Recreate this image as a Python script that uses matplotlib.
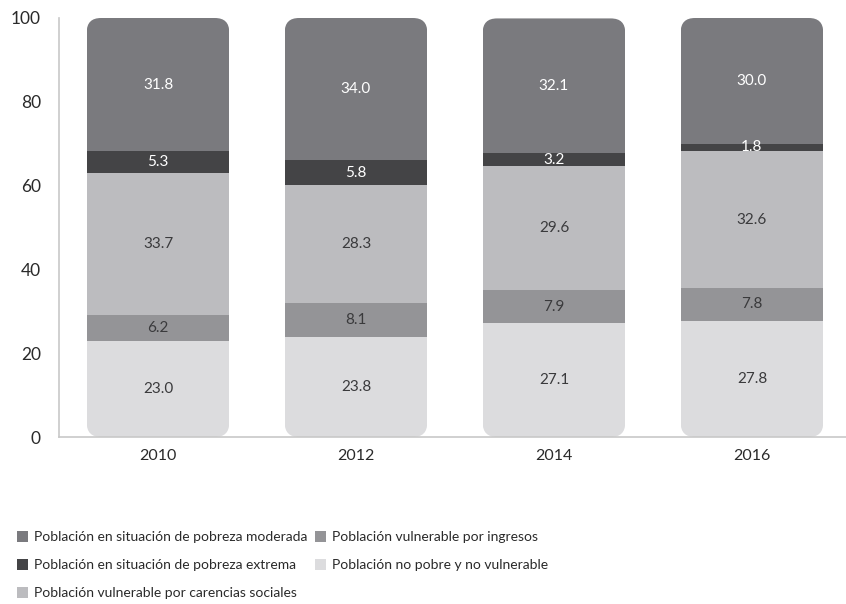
import numpy as np
import matplotlib
matplotlib.use("Agg")
import matplotlib.pyplot as plt
from matplotlib.patches import FancyBboxPatch, Patch

plt.rcParams["font.family"] = ["Lato", "DejaVu Sans"]

years = ["2010", "2012", "2014", "2016"]
no_pobre = [23.0, 23.8, 27.1, 27.8]
vuln_ingresos = [6.2, 8.1, 7.9, 7.8]
vuln_carencias = [33.7, 28.3, 29.6, 32.6]
pobreza_extrema = [5.3, 5.8, 3.2, 1.8]
pobreza_moderada = [31.8, 34.0, 32.1, 30.0]

series = [
    ("Población no pobre y no vulnerable", no_pobre, "#dcdcde", "#3a3a3c"),
    ("Población vulnerable por ingresos", vuln_ingresos, "#949497", "#3a3a3c"),
    ("Población vulnerable por carencias sociales", vuln_carencias, "#bcbcbf", "#3a3a3c"),
    ("Población en situación de pobreza extrema", pobreza_extrema, "#444446", "white"),
    ("Población en situación de pobreza moderada", pobreza_moderada, "#7a7a7e", "white"),
]

fig = plt.figure(figsize=(8.46, 6.04), dpi=100)
ax = fig.add_axes([59 / 846, 1 - 437 / 604, 787 / 846, 419 / 604])

x = np.arange(len(years))
width = 0.72
ax.set_xlim(-0.5, 3.475)
ax.set_ylim(0, 100)

# clip shape: one rounded box per stacked column
totals = np.sum([s[1] for s in series], axis=0)
px_x = 787 / 3.975
px_y = 419 / 100
clips = []
for xi, tot in zip(x, totals):
    p = FancyBboxPatch((xi - width / 2, 0), width, tot,
                       boxstyle="round,pad=0,rounding_size=0.072",
                       mutation_aspect=px_x / px_y,
                       transform=ax.transData, fc="none", ec="none")
    ax.add_patch(p)
    clips.append(p)

bottom = np.zeros(len(years))
for label, vals, color, tcolor in series:
    vals = np.array(vals)
    bars = ax.bar(x, vals, width, bottom=bottom, color=color, label=label,
                  linewidth=0, zorder=2)
    for b, clip in zip(bars, clips):
        b.set_clip_path(clip)
    for xi, v, b0 in zip(x, vals, bottom):
        ax.text(xi, b0 + v / 2, f"{v:.1f}", ha="center", va="center",
                color=tcolor, fontsize=11, zorder=3)
    bottom += vals

for side in ["top", "right"]:
    ax.spines[side].set_visible(False)
ax.spines["left"].set_color("#c8c8c8")
ax.spines["bottom"].set_color("#c8c8c8")
ax.spines["left"].set_linewidth(1.2)
ax.spines["bottom"].set_linewidth(1.2)
ax.set_yticks(range(0, 101, 20))
ax.set_xticks(x)
ax.set_xticklabels(years)
ax.tick_params(axis="both", length=0, labelcolor="#2a2a2a")
ax.tick_params(axis="y", pad=13, labelsize=12.5)
ax.tick_params(axis="x", pad=9, labelsize=11.5)

order = [4, 3, 2, 1, 0]
legend_handles = [Patch(facecolor=series[i][2], edgecolor="none") for i in order]
fig.legend(legend_handles, [series[i][0] for i in order],
           loc="upper left", bbox_to_anchor=(17 / 846, 1 - 531 / 604),
           ncol=2, frameon=False, fontsize=10, labelcolor="#2a2a2a",
           borderpad=0, borderaxespad=0,
           handlelength=0.8, handleheight=0.8, handletextpad=0.4,
           columnspacing=0.6, labelspacing=1.15)

fig.savefig("out.png", dpi=100)
